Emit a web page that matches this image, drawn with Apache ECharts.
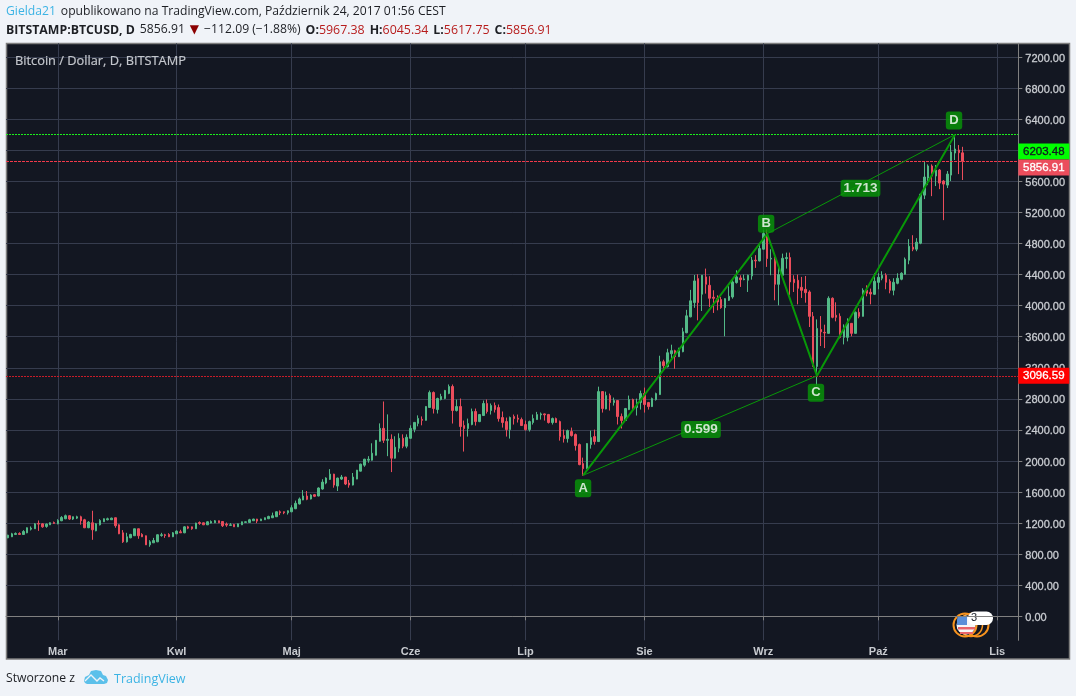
<!DOCTYPE html>
<html>
<head>
<meta charset="utf-8">
<title>BTCUSD</title>
<style>html,body{margin:0;padding:0;background:#f0f3f8}#chart{width:1076px;height:696px}</style>
<script src="https://cdn.jsdelivr.net/npm/echarts@6/dist/echarts.min.js"></script>
</head>
<body>
<div id="chart"></div>
<script>
// Daily BTC/USD candles, 16 Feb 2017 to 23 Oct 2017
const opens = [
1011,1024,1054,1067,1054,1075,1122,1127,1196,1191,1157,1178,1208,1191,1230,1256,1295,1252,1264,1282,
1243,1140,1204,1101,1178,1217,1243,1243,1269,1178,1075,959,1011,1037,1127,1054,1037,920,946,959,
1041,1050,1054,1024,1062,1088,1075,1152,1152,1127,1208,1204,1178,1200,1204,1230,1221,1187,1170,1183,
1152,1178,1209,1209,1230,1252,1230,1243,1256,1269,1282,1346,1346,1333,1346,1385,1447,1498,1549,1510,
1566,1549,1639,1716,1763,1831,1677,1767,1793,1716,1690,1767,1869,1946,2010,2010,2074,2254,2420,2266,
2279,2036,2164,2292,2190,2292,2407,2484,2536,2523,2689,2882,2662,2791,2804,2870,2959,2650,2701,2456,
2417,2469,2637,2507,2585,2740,2650,2714,2688,2559,2507,2404,2572,2551,2533,2469,2404,2495,2533,2594,
2606,2598,2495,2546,2507,2327,2288,2379,2340,2211,1966,1901,2211,2314,2250,2893,2670,2842,2752,2778,
2572,2521,2662,2790,2688,2752,2868,2752,2700,2790,2855,3278,3214,3381,3420,3343,3407,3651,3856,4039,
4348,4147,4370,4262,4108,4090,4078,3974,4069,4112,4297,4357,4335,4327,4383,4585,4576,4727,4929,4600,
4610,4275,4391,4606,4619,4340,4327,4236,4210,4176,3862,3217,3693,3656,3643,4095,3876,3863,3592,3592,
3772,3643,3914,3862,4198,4172,4146,4300,4353,4391,4314,4198,4288,4340,4404,4585,4753,4727,4804,5423,
5643,5798,5669,5746,5604,5552,5681,5965,6004,5967.38];
const closes = [
1045,1062,1067,1054,1092,1140,1135,1191,1187,1152,1187,1205,1196,1234,1273,1295,1252,1282,1282,1230,
1140,1213,1114,1191,1234,1256,1256,1264,1166,1062,959,1024,1054,1127,1037,1024,920,959,976,1050,
1050,1041,1024,1075,1097,1075,1152,1135,1127,1200,1196,1178,1217,1221,1230,1204,1166,1174,1178,1152,
1191,1217,1217,1243,1252,1226,1252,1269,1286,1295,1346,1333,1333,1359,1398,1455,1511,1549,1506,1562,
1545,1652,1728,1780,1831,1690,1780,1793,1703,1690,1793,1882,1959,2023,2023,2100,2266,2420,2266,2279,
2036,2177,2292,2190,2305,2420,2497,2548,2523,2702,2881,2675,2804,2830,2908,2959,2650,2701,2443,2417,
2482,2637,2507,2598,2740,2637,2714,2662,2546,2495,2404,2559,2546,2538,2456,2404,2507,2546,2598,2606,
2594,2495,2546,2495,2314,2288,2391,2327,2198,1953,1901,2224,2301,2250,2893,2675,2842,2752,2778,2572,
2521,2675,2790,2675,2752,2868,2726,2700,2803,2868,3278,3227,3394,3420,3343,3420,3664,3869,4062,4318,
4039,4392,4275,4095,4095,4048,3974,4090,4121,4305,4370,4335,4344,4392,4585,4576,4735,4929,4606,4610,
4275,4400,4610,4619,4305,4296,4223,4197,4167,3862,3217,3707,3663,3648,4095,3850,3850,3592,3721,3772,
3643,3914,3862,4198,4159,4150,4314,4365,4391,4301,4198,4301,4353,4417,4598,4765,4727,4817,5436,5656,
5798,5669,5746,5578,5565,5694,5978,6017,5969,5856.91];
const highs = [
1050,1075,1080,1082,1110,1145,1157,1200,1234,1200,1195,1210,1220,1250,1290,1310,1300,1285,1295,1295,
1255,1225,1359,1200,1250,1260,1270,1270,1272,1185,1110,1075,1062,1130,1130,1070,1040,980,1010,1055,
1075,1062,1070,1085,1105,1114,1160,1165,1155,1205,1222,1208,1225,1235,1240,1232,1225,1208,1200,1190,
1195,1220,1222,1255,1256,1255,1256,1272,1295,1335,1350,1363,1350,1363,1430,1490,1530,1625,1613,1572,
1575,1660,1765,1790,1895,1835,1785,1820,1795,1755,1845,1885,1965,2028,2062,2228,2270,2484,2766,2600,
2343,2318,2356,2343,2343,2459,2500,2587,2574,2705,2907,2895,2815,2865,2915,2985,2985,2791,2804,2520,
2546,2675,2675,2605,2778,2791,2740,2753,2727,2637,2559,2572,2598,2598,2559,2520,2520,2598,2632,2624,
2611,2606,2559,2559,2520,2404,2404,2430,2353,2224,2043,2230,2391,2404,2957,2900,2893,2868,2816,2780,
2611,2683,2842,2803,2803,2906,2945,2760,2816,2880,3355,3304,3445,3497,3432,3458,3715,3946,4203,4395,
4404,4395,4477,4379,4198,4133,4112,4095,4250,4348,4456,4391,4400,4400,4628,4650,4778,4972,4980,4726,
4627,4486,4670,4683,4683,4391,4400,4370,4382,4197,3918,3823,3866,3755,4120,4107,4043,3901,3759,3837,
3775,3925,3966,4224,4262,4220,4417,4417,4443,4417,4340,4353,4417,4430,4620,4856,4907,4869,5440,5849,
5819,5819,5810,5759,5617,5733,6068,6203.48,6068,6045.34];
const lows = [
1005,1020,1050,1050,1050,1070,1105,1125,1100,1140,1140,1175,1190,1185,1225,1250,1240,1240,1252,1180,
1135,1135,985,1095,1170,1215,1235,1240,1140,1058,945,950,1005,1035,998,1020,918,895,945,955,
1025,1010,1020,1020,1060,1072,1070,1122,1114,1125,1178,1175,1175,1195,1200,1200,1150,1152,1165,1150,
1150,1175,1205,1205,1228,1200,1228,1240,1252,1265,1280,1303,1315,1310,1340,1380,1440,1495,1495,1505,
1535,1545,1630,1700,1755,1656,1613,1755,1690,1656,1685,1765,1865,1925,1977,2005,2070,2250,2232,2062,
1857,2030,2113,2164,2164,2285,2369,2446,2459,2520,2685,2611,2611,2780,2795,2860,2482,2637,2314,2121,
2314,2460,2456,2500,2580,2611,2598,2624,2507,2430,2314,2288,2469,2495,2450,2391,2379,2469,2530,2533,
2520,2482,2469,2490,2262,2237,2237,2314,2134,1945,1811,1895,2159,2211,2245,2623,2665,2649,2713,2470,
2418,2515,2655,2649,2585,2662,2623,2662,2695,2778,2850,3163,3205,3317,3188,3340,3400,3645,3850,3972,
3811,3931,4155,3983,3906,3940,3960,3605,4060,4090,4284,4241,4327,4176,4335,4486,4570,4722,4499,4391,
4069,4004,4370,4477,4133,4176,4017,4099,4038,3725,3215,2972,3480,3454,3640,3837,3798,3579,3501,3540,
3605,3640,3837,3860,4120,4017,4140,4211,4327,4211,4159,4133,4275,4327,4400,4533,4701,4701,4791,5372,
5552,5410,5540,5500,5101,5514,5604,5875,5694,5617.75];

// Month labels shown on the time axis, keyed by first-of-month date
const monthLabels = {'2017-03-01':'Mar','2017-04-01':'Kwl','2017-05-01':'Maj','2017-06-01':'Cze','2017-07-01':'Lip','2017-08-01':'Sie','2017-09-01':'Wrz','2017-10-01':'Paź','2017-11-01':'Lis'};
const priceTicks = [0,400,800,1200,1600,2000,2400,2800,3200,3600,4000,4400,4800,5200,5600,6000,6400,6800,7200];

// Harmonic pattern pivots: [candle index, price]
const pointA = [150, 1815];
const pointB = [198, 4925];
const pointC = [211, 3096.59];
const pointD = [247, 6203.48];
const ratioAC = 0.599;
const ratioBD = 1.713;
const lastClose = 5856.91;

// Calendar days from the first candle to a few days past the last one
const categories = [];
for (let d = Date.UTC(2017, 1, 16), n = 0; n < 264; n++, d += 86400000) {
  categories.push(new Date(d).toISOString().slice(0, 10));
}
const candleData = opens.map((o, i) => [o, closes[i], lows[i], highs[i]]);

const UP = '#53b987', DOWN = '#eb4d5c', PATTERN = '#089808', GRID = '#363c4e';
const axisText = '#c8cbd0';
const uiFont = '"Open Sans", "Noto Sans", sans-serif';
const isMonthStart = (i, v) => Object.prototype.hasOwnProperty.call(monthLabels, v);

function priceLine(value, dash, color, tagBg, tagText, dy) {
  return {
    yAxis: value,
    lineStyle: {color, width: 1, type: dash},
    label: {
      show: true, position: 'end', distance: 0, offset: [25.5, dy],
      formatter: value.toFixed(2), align: 'center',
      backgroundColor: tagBg, color: tagText, fontFamily: 'Liberation Sans', fontSize: 11.5,
      textBorderColor: tagText, textBorderWidth: 0.3,
      width: 51, height: 16, lineHeight: 17, padding: 0
    }
  };
}
function badge(value, text, dx, dy, fontSize, pad) {
  return {
    value,
    label: {
      show: true, position: 'inside', offset: [dx, dy], formatter: text,
      backgroundColor: PATTERN, borderRadius: 3, padding: pad,
      color: '#fff', fontFamily: 'Liberation Sans', fontWeight: 'bold', fontSize
    }
  };
}
const letter = (point, text, dx, dy) => badge(point, text, dx, dy, 13, [3, 3.5, 2, 3.5]);
const ratio = (p, q, value, dx, dy) => badge(
  [Math.round((p[0] + q[0]) / 2), (p[1] + q[1]) / 2], value.toFixed(3), dx, dy, 13.5, [2, 3, 1, 3]);

const chart = echarts.init(document.getElementById('chart'), null, {width: 1076, height: 696});
chart.setOption({
  animation: false,
  backgroundColor: '#f0f3f8',
  title: [
    {
      left: 6, top: 3, itemGap: 0, padding: 0,
      text: '{a|Gielda21} {b|opublikowano na TradingView.com, Październik 24, 2017 01:56 CEST}',
      textStyle: {fontWeight: 'normal', rich: {
        a: {color: '#3bb3e4', fontFamily: uiFont, fontSize: 12.15, fontWeight: 'normal'},
        b: {color: '#1d1f24', fontFamily: uiFont, fontSize: 12.15, fontWeight: 'normal'}
      }}
    },
    {
      left: 6, top: 21, padding: 0,
      text: '{h|BITSTAMP:BTCUSD, D} {n|5856.91} {t|▼} {n|−112.09 (−1.88%)} {h|O:}{v|5967.38} {h|H:}{v|6045.34} {h|L:}{v|5617.75} {h|C:}{v|5856.91}',
      textStyle: {fontWeight: 'normal', rich: {
        h: {color: '#1d1f24', fontFamily: uiFont, fontSize: 12.3, fontWeight: 'bold'},
        n: {color: '#1d1f24', fontFamily: uiFont, fontSize: 12.2, fontWeight: 'normal'},
        t: {color: '#8b0000', fontFamily: 'DejaVu Sans', fontSize: 12, fontWeight: 'normal'},
        v: {color: '#b71c1c', fontFamily: uiFont, fontSize: 12.4, fontWeight: 'normal'}
      }}
    },
    {
      left: 15, top: 54.5, padding: 0, text: 'Bitcoin / Dollar, D, BITSTAMP',
      textStyle: {color: '#c3c6cc', fontFamily: uiFont, fontSize: 12.8, fontWeight: 'normal', textBorderColor: '#c3c6cc', textBorderWidth: 0.2}
    },
    {
      left: 6, top: 673, padding: 0, text: 'Stworzone z',
      textStyle: {color: '#1d1f24', fontFamily: uiFont, fontSize: 12.2, fontWeight: 'normal'}
    },
    {
      left: 114, top: 673, padding: 0, text: 'TradingView',
      textStyle: {color: '#3bb3e4', fontFamily: uiFont, fontSize: 12.5, fontWeight: 'normal'}
    }
  ],
  grid: {left: 6, top: 43.3, width: 1012.3, height: 597, show: false},
  xAxis: {
    type: 'category', data: categories, boundaryGap: true,
    axisLine: {show: true, lineStyle: {color: '#808080'}},
    axisTick: {show: true, interval: isMonthStart, alignWithLabel: true, length: 4, lineStyle: {color: '#808080'}},
    axisLabel: {
      interval: isMonthStart, formatter: v => monthLabels[v] || '',
      color: axisText, fontFamily: 'Liberation Sans', fontSize: 11, fontWeight: 'bold', margin: 6
    },
    splitLine: {show: true, interval: isMonthStart, alignWithLabel: true, lineStyle: {color: GRID, width: 1}}
  },
  yAxis: {
    type: 'value', position: 'right', min: -309, max: 7378, scale: true,
    axisLine: {show: true, lineStyle: {color: '#808080'}},
    axisTick: {show: true, customValues: priceTicks, length: 4, lineStyle: {color: '#808080'}},
    axisLabel: {
      customValues: priceTicks, formatter: v => '{v|' + v.toFixed(2) + '}',
      rich: {v: {
        color: axisText, fontFamily: 'Liberation Sans', fontSize: 11, padding: [3, 0, 0, 0],
        textBorderColor: axisText, textBorderWidth: 0.3
      }},
      margin: 7
    },
    splitLine: {show: true, lineStyle: {color: GRID, width: 1}}
  },
  series: [
    {
      name: 'BTCUSD', type: 'candlestick', data: candleData, barWidth: 2, z: 3,
      itemStyle: {color: UP, color0: DOWN, borderColor: UP, borderColor0: DOWN, borderWidth: 1}
    },
    {
      name: 'levels', type: 'line', data: [], z: 5, silent: true,
      markLine: {
        silent: true, symbol: 'none', z: 5, animation: false,
        data: [
          priceLine(pointD[1], [2, 1], '#1cf01c', '#00ff00', '#131722', 17),
          priceLine(lastClose, [3, 1], '#f0394a', DOWN, '#ffffff', 6),
          priceLine(pointC[1], [2, 1], '#c81c28', '#ff0000', '#ffffff', 0)
        ]
      }
    },
    {
      name: 'AC', type: 'line', data: [pointA, pointC], symbol: 'none', z: 6, silent: true,
      lineStyle: {color: PATTERN, width: 1}
    },
    {
      name: 'BD', type: 'line', data: [pointB, pointD], symbol: 'none', z: 6, silent: true,
      lineStyle: {color: PATTERN, width: 1}
    },
    {
      name: 'ABCD', type: 'line', data: [pointA, pointB, pointC, pointD], symbol: 'none', z: 7, silent: true,
      lineStyle: {color: PATTERN, width: 2}
    },
    {
      name: 'labels', type: 'scatter', symbolSize: 1, z: 8, silent: true,
      itemStyle: {color: 'transparent'},
      data: [
        letter(pointA, 'A', 0, 13), letter(pointB, 'B', -1, -10), letter(pointC, 'C', -1, 17), letter(pointD, 'D', -1, -14),
        ratio(pointA, pointC, ratioAC, -1, 4), ratio(pointB, pointD, ratioBD, -2.5, 4)
      ]
    }
  ],
  graphic: [
    {type: 'rect', z: -5, silent: true, shape: {x: 6.5, y: 43.5, width: 1063, height: 615.5},
      style: {fill: '#131722', stroke: '#7e7e7e', lineWidth: 1.5}},
    // event flag badge next to the price scale
    {type: 'group', z: 20, silent: true, children: [
      {type: 'circle', shape: {cx: 965, cy: 625, r: 11.5}, style: {fill: 'none', stroke: '#f7931e', lineWidth: 2}},
      {type: 'circle', shape: {cx: 971, cy: 625, r: 11.5}, style: {fill: 'none', stroke: '#f7931e', lineWidth: 1.5}},
      {type: 'circle', shape: {cx: 977, cy: 625, r: 11.5}, style: {fill: 'none', stroke: '#f7931e', lineWidth: 2}},
      {type: 'circle', shape: {cx: 966, cy: 625, r: 9.5}, style: {fill: '#f6f6f6'}},
      {type: 'rect', shape: {x: 958, y: 627, width: 17, height: 2.5}, style: {fill: '#e8656a'}},
      {type: 'rect', shape: {x: 960, y: 632, width: 13, height: 2}, style: {fill: '#e8656a'}},
      {type: 'rect', shape: {x: 957, y: 616, width: 10, height: 9, r: [4, 0, 0, 0]}, style: {fill: '#5a8fd8'}},
      {type: 'rect', shape: {x: 968, y: 611.5, width: 25, height: 13.5, r: 6.5}, style: {fill: '#ffffff'}},
      {type: 'text', style: {x: 971, y: 612.5, text: '3', fill: '#131722', fontFamily: 'Liberation Sans', fontSize: 11}}
    ]},
    // TradingView cloud logo in the footer
    {type: 'group', silent: true, children: [
      {type: 'polygon', shape: {points: [[84, 681], [85, 677], [89, 675], [91, 671], [96, 670], [101, 671], [103, 675], [106, 676], [108, 680], [107, 683], [104, 684], [87, 684], [85, 683]]}, style: {fill: '#5cc0ea'}},
      {type: 'polyline', shape: {points: [[85, 681], [91, 675], [97, 681], [100, 678], [104, 681]]}, style: {fill: 'none', stroke: '#f0f3f8', lineWidth: 1.4}}
    ]}
  ]
});
</script>
</body>
</html>
